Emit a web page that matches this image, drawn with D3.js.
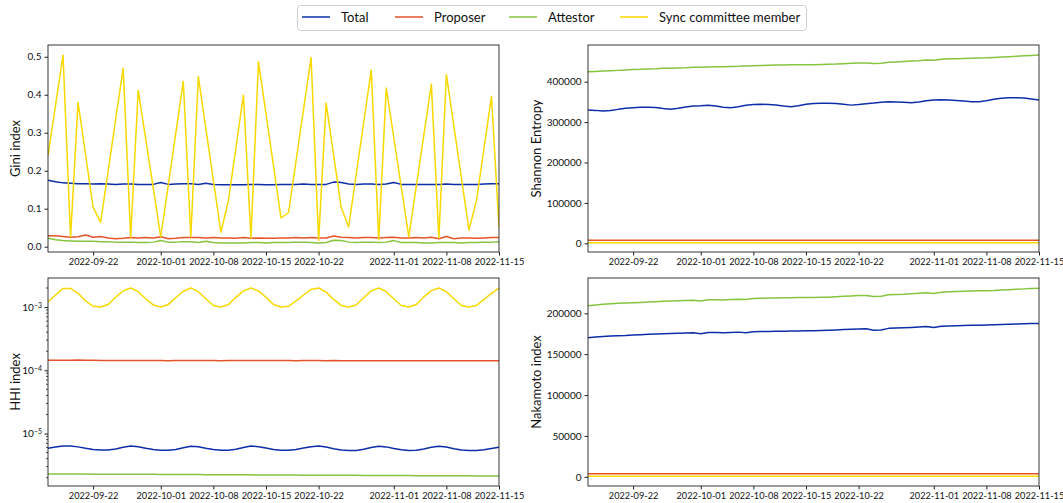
<!DOCTYPE html>
<html><head><meta charset="utf-8">
<script src="https://cdn.jsdelivr.net/npm/d3@7"></script>
<style>
body{margin:0;background:#fff;}
svg text{font-family:Lato,"Open Sans",sans-serif;fill:#111;}
</style></head>
<body><svg id="c" width="1063" height="503"></svg>
<script>
const startDate = "2022-09-16", endDate = "2022-11-15";
const tickDates = ["2022-09-22","2022-10-01","2022-10-08","2022-10-15","2022-10-22","2022-11-01","2022-11-08","2022-11-15"];
const seriesNames = ["Total","Proposer","Attestor","Sync committee member"];
const seriesColors = ["#0d2ea8","#e5532b","#86c440","#f7d900"];

// Gini index
const giniTotal = [0.175,0.171,0.168,0.167,0.166,0.166,0.165,0.166,0.165,0.164,0.165,0.165,0.164,0.164,0.164,0.169,0.164,0.165,0.166,0.166,0.164,0.167,0.164,0.163,0.163,0.163,0.163,0.164,0.164,0.163,0.163,0.164,0.164,0.164,0.165,0.164,0.164,0.164,0.170,0.169,0.165,0.164,0.165,0.165,0.164,0.165,0.169,0.164,0.164,0.164,0.164,0.164,0.164,0.165,0.164,0.164,0.164,0.164,0.165,0.166,0.166];
const giniProposer = [0.029,0.029,0.027,0.025,0.026,0.031,0.025,0.027,0.023,0.021,0.022,0.024,0.023,0.024,0.023,0.026,0.021,0.022,0.024,0.024,0.024,0.023,0.024,0.023,0.023,0.022,0.024,0.022,0.023,0.022,0.022,0.023,0.023,0.024,0.023,0.024,0.023,0.023,0.028,0.025,0.024,0.023,0.024,0.024,0.023,0.024,0.025,0.023,0.023,0.024,0.023,0.025,0.021,0.027,0.021,0.023,0.023,0.022,0.023,0.024,0.024];
const giniAttestor = [0.022,0.018,0.016,0.015,0.014,0.014,0.014,0.013,0.013,0.012,0.012,0.012,0.011,0.011,0.012,0.016,0.012,0.012,0.013,0.013,0.011,0.014,0.011,0.010,0.010,0.010,0.010,0.011,0.011,0.010,0.011,0.011,0.011,0.012,0.012,0.011,0.010,0.011,0.017,0.016,0.012,0.011,0.012,0.012,0.011,0.012,0.016,0.011,0.011,0.011,0.010,0.010,0.011,0.011,0.011,0.010,0.011,0.011,0.012,0.012,0.013];
const giniSync = [0.24,0.372,0.504,0.025,0.38,0.242,0.104,0.064,0.199,0.335,0.47,0.025,0.412,0.283,0.155,0.026,0.162,0.299,0.435,0.026,0.448,0.311,0.175,0.038,0.121,0.26,0.399,0.023,0.487,0.35,0.213,0.0755,0.09,0.226,0.362,0.498,0.016,0.378,0.241,0.104,0.052,0.19,0.327,0.465,0.018,0.418,0.287,0.157,0.026,0.16,0.294,0.428,0.023,0.453,0.317,0.181,0.044,0.121,0.258,0.396,0.05];

// Shannon entropy
const entTotal = [330000,329000,327500,328500,331500,334000,335500,336500,337000,336000,333500,332000,334500,337500,340000,340500,341500,340000,337000,335500,338000,341500,343500,344000,343500,342500,340000,338000,340500,344000,346000,346500,346500,346000,344000,342000,343500,345500,347000,349000,350500,350000,349000,348000,350000,353000,354500,355000,354500,353500,352000,350500,350500,353000,356500,359000,360000,360500,359500,357000,354700];
const entProposer = [7500,7500,7480,7490,7500,7510,7500,7490,7500,7500,7510,7500,7500,7490,7500,7510,7500,7500,7500,7490,7500,7510,7500,7500,7500,7490,7500,7500,7510,7500,7500,7500,7490,7500,7500,7510,7500,7500,7490,7500,7500,7510,7500,7500,7500,7490,7500,7500,7510,7500,7500,7500,7490,7500,7500,7510,7500,7500,7500,7490,7500];
const entAttestor = [424500,425500,426500,427200,428000,429000,430000,430500,431500,432000,433000,433500,434000,434500,435500,436000,436500,437000,437000,437500,438000,439000,439500,440000,440500,441000,441500,441800,442000,442000,442200,442500,443000,443500,444500,445500,446000,446500,445000,445500,448000,449000,450000,451000,452000,453500,453000,455500,456500,457000,457500,458000,458500,459000,460000,461000,462000,463000,464000,465000,466000];
const entSync = [1200,1210,1200,1190,1200,1200,1210,1200,1200,1190,1200,1200,1210,1200,1200,1190,1200,1200,1210,1200,1200,1190,1200,1200,1210,1200,1200,1190,1200,1200,1210,1200,1200,1190,1200,1200,1210,1200,1200,1190,1200,1200,1210,1200,1200,1190,1200,1200,1210,1200,1200,1190,1200,1200,1210,1200,1200,1190,1200,1200,1210];

// HHI index
const hhiTotal = [5.85e-6,6.1e-6,6.35e-6,6.35e-6,6.15e-6,5.85e-6,5.6e-6,5.5e-6,5.5e-6,5.7e-6,6.05e-6,6.35e-6,6.2e-6,5.85e-6,5.6e-6,5.45e-6,5.45e-6,5.6e-6,5.95e-6,6.3e-6,6.2e-6,5.85e-6,5.6e-6,5.45e-6,5.45e-6,5.65e-6,6.0e-6,6.35e-6,6.2e-6,5.9e-6,5.6e-6,5.45e-6,5.45e-6,5.6e-6,5.9e-6,6.2e-6,6.35e-6,6.1e-6,5.75e-6,5.5e-6,5.4e-6,5.4e-6,5.65e-6,6.0e-6,6.3e-6,6.15e-6,5.8e-6,5.55e-6,5.4e-6,5.45e-6,5.7e-6,6.05e-6,6.3e-6,6.1e-6,5.75e-6,5.5e-6,5.4e-6,5.4e-6,5.55e-6,5.8e-6,6.05e-6];
const hhiProposer = [1.44e-4,1.44e-4,1.44e-4,1.44e-4,1.45e-4,1.44e-4,1.44e-4,1.43e-4,1.43e-4,1.43e-4,1.43e-4,1.43e-4,1.43e-4,1.43e-4,1.43e-4,1.43e-4,1.42e-4,1.43e-4,1.43e-4,1.43e-4,1.43e-4,1.43e-4,1.43e-4,1.42e-4,1.43e-4,1.43e-4,1.43e-4,1.43e-4,1.43e-4,1.43e-4,1.43e-4,1.43e-4,1.43e-4,1.42e-4,1.43e-4,1.43e-4,1.43e-4,1.42e-4,1.43e-4,1.42e-4,1.42e-4,1.42e-4,1.42e-4,1.42e-4,1.42e-4,1.42e-4,1.42e-4,1.42e-4,1.42e-4,1.42e-4,1.42e-4,1.42e-4,1.42e-4,1.42e-4,1.42e-4,1.42e-4,1.42e-4,1.41e-4,1.42e-4,1.42e-4,1.42e-4];
const hhiAttestor = [2.30e-6,2.30e-6,2.30e-6,2.29e-6,2.29e-6,2.29e-6,2.28e-6,2.28e-6,2.28e-6,2.27e-6,2.27e-6,2.27e-6,2.26e-6,2.26e-6,2.26e-6,2.25e-6,2.25e-6,2.25e-6,2.24e-6,2.24e-6,2.24e-6,2.23e-6,2.23e-6,2.23e-6,2.22e-6,2.22e-6,2.22e-6,2.22e-6,2.21e-6,2.21e-6,2.21e-6,2.20e-6,2.20e-6,2.20e-6,2.19e-6,2.19e-6,2.19e-6,2.19e-6,2.19e-6,2.18e-6,2.18e-6,2.18e-6,2.17e-6,2.17e-6,2.17e-6,2.16e-6,2.16e-6,2.16e-6,2.16e-6,2.15e-6,2.15e-6,2.15e-6,2.15e-6,2.14e-6,2.14e-6,2.14e-6,2.14e-6,2.13e-6,2.13e-6,2.13e-6,2.13e-6];
const hhiSync = [1.20e-3,1.55e-3,1.97e-3,1.97e-3,1.65e-3,1.25e-3,1.03e-3,1.00e-3,1.10e-3,1.43e-3,1.80e-3,2.00e-3,1.75e-3,1.35e-3,1.08e-3,1.00e-3,1.10e-3,1.40e-3,1.78e-3,2.00e-3,1.75e-3,1.35e-3,1.06e-3,1.00e-3,1.10e-3,1.42e-3,1.80e-3,2.00e-3,1.80e-3,1.42e-3,1.10e-3,1.00e-3,1.03e-3,1.25e-3,1.55e-3,1.90e-3,2.00e-3,1.72e-3,1.32e-3,1.06e-3,1.00e-3,1.08e-3,1.40e-3,1.80e-3,2.00e-3,1.75e-3,1.35e-3,1.06e-3,1.00e-3,1.10e-3,1.45e-3,1.82e-3,2.00e-3,1.75e-3,1.35e-3,1.06e-3,1.00e-3,1.06e-3,1.32e-3,1.65e-3,2.00e-3];

// Nakamoto index
const nakTotal = [170100,171000,171700,172200,172600,172800,173400,173900,174300,174700,175000,175200,175600,175900,176200,175000,176500,176400,176200,176500,177000,176300,177500,177700,177900,178100,178200,178400,178500,178600,178700,179000,179200,179600,180100,180600,180900,181100,179200,179700,181600,182000,182300,182800,183300,183800,182600,184100,184500,184800,185100,185300,185500,185700,185900,186300,186600,186900,187200,187500,187700];
const nakProposer = [3700,3700,3710,3700,3690,3700,3700,3710,3700,3700,3690,3700,3700,3710,3700,3700,3690,3700,3700,3710,3700,3700,3690,3700,3700,3710,3700,3700,3690,3700,3700,3710,3700,3700,3690,3700,3700,3710,3700,3700,3690,3700,3700,3710,3700,3700,3690,3700,3700,3710,3700,3700,3690,3700,3700,3710,3700,3700,3690,3700,3700];
const nakAttestor = [209300,210200,211000,211700,212200,212600,213000,213300,213800,214300,214700,215000,215300,215600,216000,215000,216600,216500,216300,216800,217300,216800,218000,218400,218600,218800,218900,219100,219200,219300,219400,219700,219800,220300,220800,221300,221700,221900,220500,221000,222600,223000,223300,224000,224600,225200,224300,225800,226300,226700,227000,227300,227500,227700,227800,228400,228900,229400,229900,230300,230700];
const nakSync = [600,600,600,600,600,600,600,600,600,600,600,600,600,600,600,600,600,600,600,600,600,600,600,600,600,600,600,600,600,600,600,600,600,600,600,600,600,600,600,600,600,600,600,600,600,600,600,600,600,600,600,600,600,600,600,600,600,600,600,600,600];

const giniTicks = [0,0.1,0.2,0.3,0.4,0.5];
const entTicks = [0,100000,200000,300000,400000];
const nakTicks = [0,50000,100000,150000,200000];
const hhiTicks = [1e-5,1e-4,1e-3];

const parse = d3.utcParse("%Y-%m-%d");
const dates = d3.utcDay.range(parse(startDate), d3.utcDay.offset(parse(endDate),1));

const svg = d3.select("#c");

const panels = [
  {x0:48,x1:499,y0:45,y1:252,label:"Gini index",type:"lin",domain:[-0.014,0.531],ticks:giniTicks,fmt:d3.format(".1f"),data:[giniTotal,giniProposer,giniAttestor,giniSync]},
  {x0:588,x1:1039,y0:45,y1:252,label:"Shannon Entropy",type:"lin",domain:[-21500,490800],ticks:entTicks,fmt:d3.format("d"),data:[entTotal,entProposer,entAttestor,entSync]},
  {x0:48,x1:499,y0:278,y1:486,label:"HHI index",type:"log",domain:[1.48e-6,2.88e-3],ticks:hhiTicks,data:[hhiTotal,hhiProposer,hhiAttestor,hhiSync]},
  {x0:588,x1:1039,y0:278,y1:486,label:"Nakamoto index",type:"lin",domain:[-11200,243200],ticks:nakTicks,fmt:d3.format("d"),data:[nakTotal,nakProposer,nakAttestor,nakSync]}
];

panels.forEach(p=>{
  const x = d3.scaleUtc().domain([parse(startDate),parse(endDate)]).range([p.x0,p.x1]);
  const y = (p.type==="log"?d3.scaleLog():d3.scaleLinear()).domain(p.domain).range([p.y1,p.y0]);
  const g = svg.append("g");
  const clipId = "clip"+p.x0+"_"+p.y0;
  g.append("clipPath").attr("id",clipId).append("rect").attr("x",p.x0).attr("y",p.y0).attr("width",p.x1-p.x0).attr("height",p.y1-p.y0);
  const line = d3.line().x((d,i)=>x(dates[i])).y(d=>y(d));
  p.data.forEach((arr,k)=>{
    g.append("path").attr("d",line(arr)).attr("fill","none").attr("stroke",seriesColors[k]).attr("stroke-width",1.5).attr("stroke-linejoin","round").attr("clip-path",`url(#${clipId})`);
  });
  // x axis
  const xa = d3.axisBottom(x).tickValues(tickDates.map(parse)).tickSize(3.5).tickPadding(3).tickFormat(d3.utcFormat("%Y-%m-%d"));
  const xg = g.append("g").attr("transform",`translate(0,${p.y1})`).call(xa);
  xg.select(".domain").remove();
  xg.selectAll("line").attr("stroke","#222");
  xg.selectAll("text").attr("font-size","9.2px").attr("fill","#111");
  // y axis
  if(p.type==="log"){
    const ya = d3.axisLeft(y).tickValues(p.ticks).tickSize(3.5).tickPadding(3).tickFormat("");
    const yg = g.append("g").attr("transform",`translate(${p.x0},0)`).call(ya);
    yg.select(".domain").remove();
    yg.selectAll("line").attr("stroke","#222");
    yg.selectAll(".tick").each(function(d){
      const t = d3.select(this).append("text").attr("x",-6).attr("dy","0.32em").attr("text-anchor","end").attr("font-size","10px").attr("fill","#111");
      t.append("tspan").text("10");
      t.append("tspan").attr("dy","-0.45em").attr("font-size","7px").text("\u2212"+Math.round(-Math.log10(d)));
    });
    const minors=[];
    for(let e=-6;e<=-3;e++){for(let m=2;m<=9;m++){const v=m*Math.pow(10,e); if(v>=p.domain[0]&&v<=p.domain[1]) minors.push(v);}}
    g.selectAll(".minor").data(minors).enter().append("line").attr("x1",p.x0-2).attr("x2",p.x0).attr("y1",d=>y(d)).attr("y2",d=>y(d)).attr("stroke","#222").attr("stroke-width",0.8);
  } else {
    const ya = d3.axisLeft(y).tickValues(p.ticks).tickSize(3.5).tickPadding(3).tickFormat(p.fmt);
    const yg = g.append("g").attr("transform",`translate(${p.x0},0)`).call(ya);
    yg.select(".domain").remove();
    yg.selectAll("line").attr("stroke","#222");
    yg.selectAll("text").attr("font-size","10px").attr("fill","#111");
  }
  g.append("rect").attr("x",p.x0).attr("y",p.y0).attr("width",p.x1-p.x0).attr("height",p.y1-p.y0).attr("fill","none").attr("stroke","#222").attr("stroke-width",0.9);
  const lx = p.x0===48?20:541;
  g.append("text").attr("transform",`translate(${lx},${(p.y0+p.y1)/2}) rotate(-90)`).attr("text-anchor","middle").attr("font-size","13px").text(p.label);
});

// legend
const leg = svg.append("g");
leg.append("rect").attr("x",297.5).attr("y",5.5).attr("width",509).attr("height",25).attr("rx",3).attr("fill","#fff").attr("stroke","#d0d0d0");
const legX = [302,395,509,620];
seriesNames.forEach((n,i)=>{
  leg.append("line").attr("x1",legX[i]).attr("x2",legX[i]+28).attr("y1",17).attr("y2",17).attr("stroke",seriesColors[i]).attr("stroke-width",1.5);
  leg.append("text").attr("x",legX[i]+39).attr("y",17).attr("dy","0.35em").attr("font-size","13px").text(n);
});
</script></body></html>
